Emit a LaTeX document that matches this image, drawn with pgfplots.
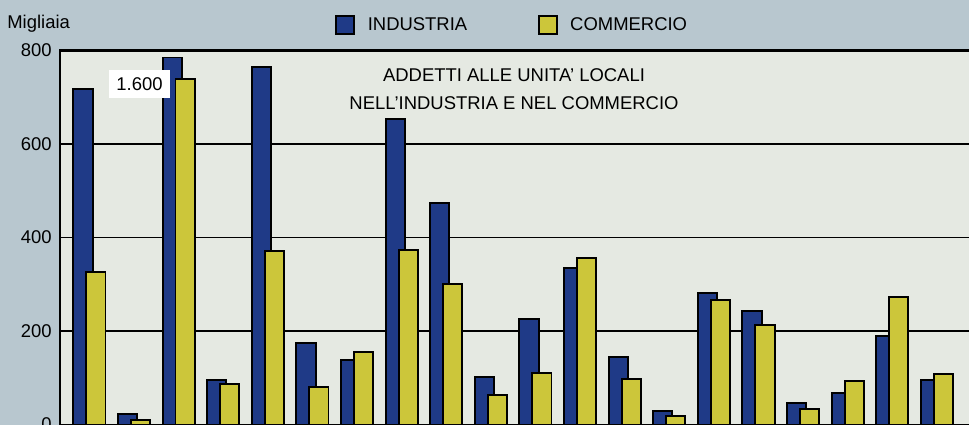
\documentclass[border=0pt]{standalone}
\usepackage{pgfplots}
\pgfplotsset{compat=1.18}
\usepackage{fontspec}
\setmainfont{Liberation Sans}

\definecolor{bluebar}{RGB}{31,58,135}
\definecolor{yellowbar}{RGB}{204,198,58}
\definecolor{outerbg}{RGB}{184,199,207}
\definecolor{plotbg}{RGB}{229,233,226}

\begin{document}
\fontsize{10.5}{12.6}\selectfont
\begin{tikzpicture}
% page background
\fill[outerbg] (-1.2,0) rectangle (18.18,8.49);
\begin{axis}[
    at={(0,0)}, anchor=south west,
    scale only axis,
    width=18.18cm, height=7.48cm,
    xmin=0.34, xmax=20.72,
    ymin=0, ymax=800,
    ytick={0,200,400,600,800},
    xtick=\empty,
    major tick length=0pt,
    ymajorgrids=true,
    grid style={black, line width=0.85pt},
    axis line style={draw=none},
    axis background/.style={fill=plotbg},
    /pgf/number format/assume math mode=true,
    yticklabel style={font=\fontsize{10.5}{12.6}\selectfont, anchor=east, inner sep=0pt, xshift=-0.16cm},
    legend style={at={(5.50cm,7.99cm)}, anchor=west, draw=none, fill=none,
        inner sep=0pt, legend columns=2,
        font=\fontsize{10.5}{12.6}\selectfont,
        /tikz/every odd column/.append style={column sep=0.18cm},
        /tikz/every even column/.append style={column sep=1.34cm}},
    legend image code/.code={\draw[#1] (0cm,-0.18cm) rectangle (0.36cm,0.18cm);},
    clip=false,
]
\addplot[ybar, bar width=0.43, bar shift=-0.145, fill=bluebar, draw=black, line width=1.1pt]
coordinates {
(1,718)(2,22)(3,785)(4,95)(5,765)(6,174)(7,138)(8,653)(9,474)(10,102)
(11,225)(12,335)(13,144)(14,29)(15,281)(16,243)(17,46)(18,67)(19,189)(20,95)
};
\addplot[ybar, bar width=0.43, bar shift=0.145, fill=yellowbar, draw=black, line width=1.1pt]
coordinates {
(1,326)(2,10)(3,739)(4,86)(5,371)(6,80)(7,155)(8,373)(9,300)(10,63)
(11,110)(12,356)(13,97)(14,18)(15,266)(16,213)(17,33)(18,93)(19,273)(20,108)
};
\legend{INDUSTRIA, COMMERCIO}
% frame: left and top only
\draw[black, line width=1.2pt] (rel axis cs:0,0) -- (rel axis cs:0,1) -- (rel axis cs:1,1);
\end{axis}
\node[anchor=base west, inner sep=0pt] at (-1.06,7.91) {Migliaia};
\node[align=center, inner sep=0pt, font=\fontsize{10.5}{15.9}\selectfont] at (9.08,6.71)
  {ADDETTI ALLE UNITA' LOCALI\\NELL'INDUSTRIA E NEL COMMERCIO};
\node[anchor=east, fill=white, inner xsep=4pt, inner ysep=4pt] at (2.20,6.81) {1.600\hspace{3pt}};
\pgfresetboundingbox
\useasboundingbox (-1.2,0) rectangle (18.18,8.49);
\end{tikzpicture}
\end{document}
